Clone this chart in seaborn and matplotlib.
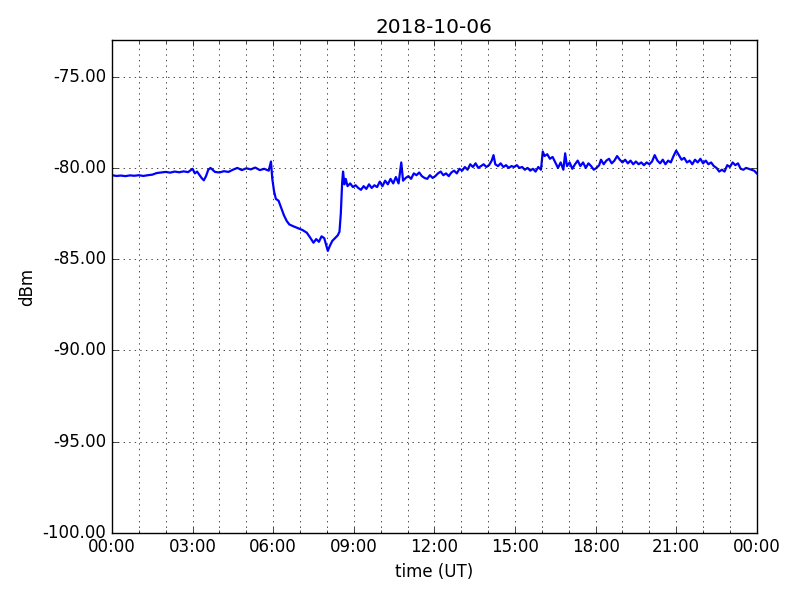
import numpy as np
import pandas as pd
import matplotlib
matplotlib.use('Agg')
import matplotlib.pyplot as plt
import matplotlib.dates as mdates
from matplotlib.ticker import FormatStrFormatter
import seaborn as sns

# minutes after 00:00 UT
minutes = [
    0, 10, 20, 30, 40, 50, 60, 70, 80, 90, 100, 110, 120, 130, 140, 150, 160, 170,
    180, 185, 190, 200, 205, 210, 215, 220, 230, 240, 250, 260, 270, 280, 290, 300,
    310, 320, 330, 340, 350, 355, 358, 362, 366, 372, 378, 384, 390, 396, 405, 415,
    425, 435, 442, 450, 456, 462, 468, 474, 478, 482, 486, 492, 498, 504, 508, 511,
    514, 516, 519, 522, 526, 532, 538, 544, 550, 556, 562, 568, 574, 580, 586, 592,
    598, 604, 610, 616, 622, 628, 634, 640, 646, 650, 656, 662, 668, 674, 680, 686,
    692, 698, 704, 710, 716, 722, 728, 734, 740, 746, 752, 758, 764, 770, 776, 782,
    788, 794, 800, 806, 812, 818, 824, 830, 836, 842, 848, 852, 856, 862, 868, 874,
    880, 886, 892, 898, 904, 910, 916, 922, 928, 934, 940, 946, 952, 958, 962, 966,
    972, 978, 984, 990, 996, 1002, 1008, 1012, 1016, 1022, 1028, 1034, 1040, 1046,
    1052, 1058, 1064, 1070, 1076, 1082, 1088, 1092, 1098, 1104, 1110, 1116, 1122,
    1128, 1134, 1140, 1146, 1152, 1158, 1164, 1170, 1176, 1182, 1188, 1194, 1200,
    1206, 1212, 1218, 1224, 1230, 1236, 1242, 1248, 1254, 1260, 1266, 1272, 1278,
    1284, 1290, 1296, 1302, 1308, 1314, 1320, 1326, 1332, 1338, 1344, 1350, 1356,
    1362, 1368, 1374, 1380, 1386, 1392, 1398, 1404, 1410, 1416, 1422, 1428, 1434, 1440,
]

dbm = [
    -80.40, -80.44, -80.42, -80.45, -80.41, -80.43, -80.40, -80.44, -80.40, -80.37,
    -80.28, -80.25, -80.22, -80.26, -80.20, -80.24, -80.19, -80.23,
    -80.05, -80.30, -80.20, -80.55, -80.68, -80.45, -80.10, -80.00, -80.22, -80.25,
    -80.18, -80.22, -80.10, -80.00, -80.12, -80.02, -80.08, -79.98, -80.12, -80.05,
    -80.15, -79.65, -80.60, -81.30, -81.70, -81.80, -82.20, -82.60, -82.90, -83.10,
    -83.20, -83.30, -83.40, -83.55, -83.80, -84.10, -83.90, -84.05, -83.75, -83.85,
    -84.20, -84.55, -84.30, -84.00, -83.85, -83.70, -83.50, -82.50,
    -80.80, -80.20, -80.90, -80.60, -81.00, -80.85, -81.05, -80.95, -81.10, -81.20,
    -81.00, -81.15, -80.90, -81.10, -80.95, -81.05, -80.75, -81.00, -80.70, -80.90,
    -80.60, -80.85, -80.50, -80.85, -79.70, -80.70, -80.55, -80.45, -80.60, -80.30,
    -80.40, -80.25, -80.45, -80.55, -80.60, -80.40, -80.55, -80.45, -80.30, -80.20,
    -80.40, -80.30, -80.45, -80.25, -80.15, -80.30, -80.05, -80.15, -79.95, -80.10,
    -79.80, -79.95, -79.75, -80.00, -79.90, -79.80, -79.95, -79.85, -79.60, -79.30,
    -79.80, -79.90, -79.75, -79.95, -79.85, -80.00, -79.90, -79.95, -79.85, -80.00,
    -79.95, -80.10, -80.00, -80.15, -80.05, -80.20, -79.95, -80.10, -79.10, -79.35,
    -79.25, -79.50, -79.40, -79.70, -80.00, -79.70, -80.10, -79.20, -79.90, -79.70,
    -80.05, -79.80, -79.60, -79.90, -79.70, -80.00, -79.75, -79.90, -80.10, -80.00,
    -79.85, -79.55, -79.80, -79.60, -79.50, -79.75, -79.60, -79.35, -79.55, -79.70,
    -79.55, -79.75, -79.60, -79.80, -79.65, -79.80, -79.70, -79.85, -79.70, -79.80,
    -79.65, -79.30, -79.60, -79.75, -79.55, -79.80, -79.60, -79.70, -79.35, -79.05,
    -79.30, -79.55, -79.45, -79.70, -79.60, -79.80, -79.55, -79.70, -79.50, -79.75,
    -79.60, -79.80, -79.70, -79.90, -80.00, -80.20, -80.10, -80.20, -79.85, -79.95,
    -79.70, -79.85, -79.75, -80.05, -80.10, -80.00, -80.05, -80.10, -80.15, -80.30,
]

day = pd.Timestamp('2018-10-06')
times = day + pd.to_timedelta(minutes, unit='m')
df = pd.DataFrame({'time': times, 'dBm': dbm})

plt.style.use('classic')
fig, ax = plt.subplots(figsize=(8, 6), dpi=100)
fig.patch.set_facecolor('white')
fig.subplots_adjust(left=0.14, right=0.946, top=0.933, bottom=0.112)

sns.lineplot(data=df, x='time', y='dBm', color='blue', lw=1.6, ax=ax)

ax.set_xlim(day, day + pd.Timedelta(days=1))
ax.set_ylim(-100, -73)
ax.xaxis.set_major_locator(mdates.HourLocator(byhour=range(0, 24, 3)))
ax.xaxis.set_minor_locator(mdates.HourLocator())
ax.xaxis.set_major_formatter(mdates.DateFormatter('%H:%M'))
ax.yaxis.set_major_formatter(FormatStrFormatter('%.2f'))
ax.set_yticks([-100, -95, -90, -85, -80, -75])

ax.grid(True, which='major', color='black', linestyle=':')
ax.grid(True, which='minor', axis='x', color='black', linestyle=':')

ax.set_xlabel('time (UT)')
ax.set_ylabel('dBm')
ax.set_title('2018-10-06')

plt.savefig('out.png', dpi=100, facecolor='white')
